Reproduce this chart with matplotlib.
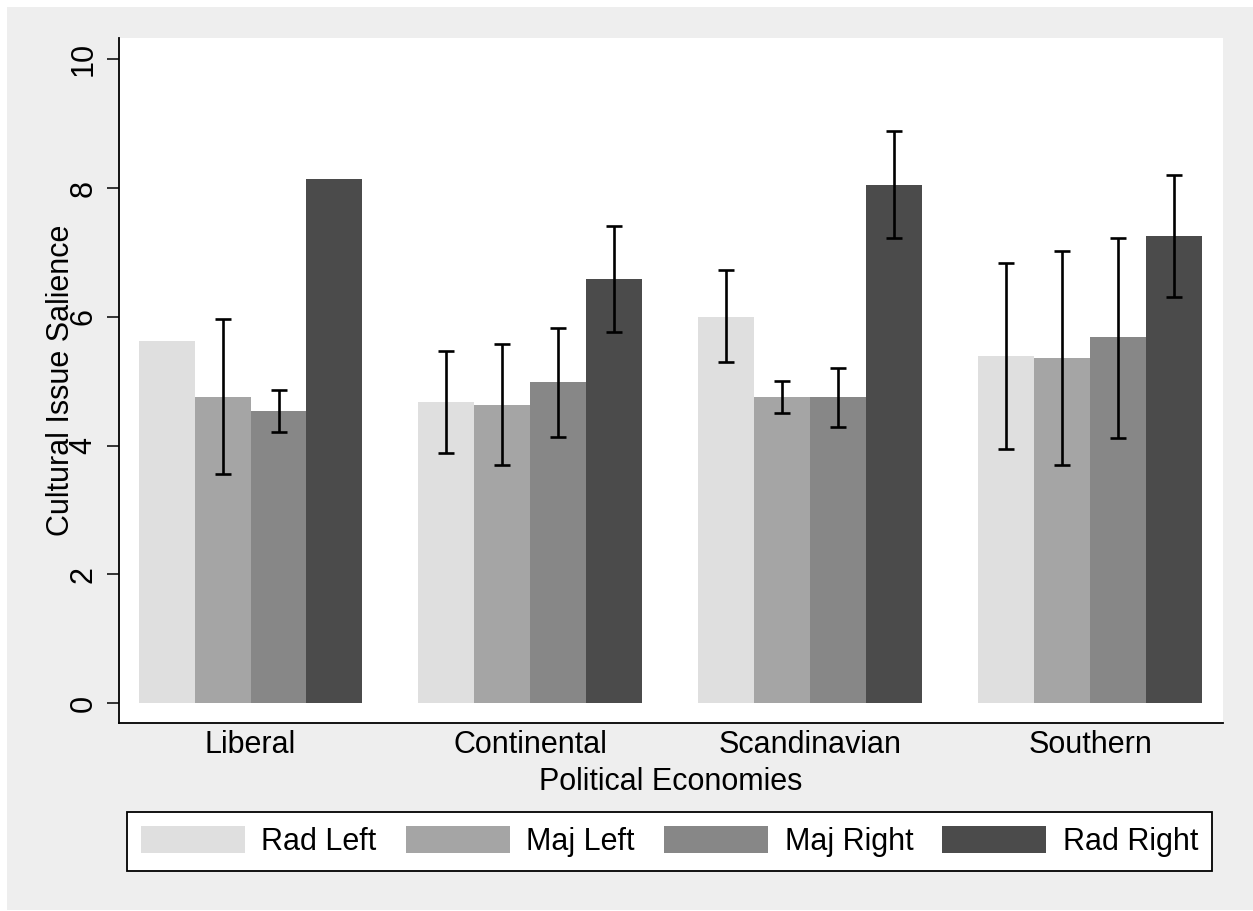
import numpy as np
import matplotlib
matplotlib.use('Agg')
import matplotlib.pyplot as plt
from matplotlib.patches import Rectangle

plt.rcParams['font.family'] = ['Liberation Sans', 'DejaVu Sans']

regimes = ['Liberal', 'Continental', 'Scandinavian', 'Southern']
parties = ['Rad Left', 'Maj Left', 'Maj Right', 'Rad Right']

rad_left = [5.63, 4.67, 6.00, 5.39]
maj_left = [4.76, 4.63, 4.76, 5.36]
maj_right = [4.54, 4.98, 4.75, 5.68]
rad_right = [8.14, 6.59, 8.05, 7.26]

# confidence intervals (nan = not shown)
rad_left_lo = [np.nan, 3.88, 5.30, 3.94]
rad_left_hi = [np.nan, 5.47, 6.72, 6.83]
maj_left_lo = [3.55, 3.70, 4.50, 3.70]
maj_left_hi = [5.96, 5.58, 5.01, 7.02]
maj_right_lo = [4.21, 4.13, 4.29, 4.12]
maj_right_hi = [4.86, 5.83, 5.21, 7.23]
rad_right_lo = [np.nan, 5.77, 7.23, 6.31]
rad_right_hi = [np.nan, 7.41, 8.88, 8.20]

series = [rad_left, maj_left, maj_right, rad_right]
lows = [rad_left_lo, maj_left_lo, maj_right_lo, rad_right_lo]
highs = [rad_left_hi, maj_left_hi, maj_right_hi, rad_right_hi]
colors = ['#dfdfdf', '#a5a5a5', '#878787', '#4b4b4b']

FS = 22
W, H = 1253, 911

fig = plt.figure(figsize=(W / 100, H / 100), dpi=100, facecolor='white')
# Stata-style grey background
fig.patches.append(Rectangle((7 / W, 1 / H), (W - 7) / W, (910 - 7) / H,
                             transform=fig.transFigure, facecolor='#eeeeee',
                             edgecolor='none', zorder=-10))

ax = fig.add_axes([119 / W, (H - 723) / H, (1223 - 119) / W, (723 - 38) / H])
ax.set_facecolor('white')

x = np.arange(len(regimes))
w = 0.2
handles = []
for j, (vals, lo, hi, c) in enumerate(zip(series, lows, highs, colors)):
    xs = x + (j - 1.5) * w
    b = ax.bar(xs, vals, width=w, color=c, label=parties[j], zorder=2)
    handles.append(b)
    lo = np.array(lo)
    hi = np.array(hi)
    m = ~np.isnan(lo)
    mid = (lo[m] + hi[m]) / 2
    ax.errorbar(xs[m], mid, yerr=(hi[m] - lo[m]) / 2, fmt='none', ecolor='black',
                elinewidth=1.9, capsize=5.8, capthick=1.9, zorder=3)

ax.set_xlim(-0.47, 3.475)
ax.set_ylim(-0.31, 10.33)

ax.set_yticks([0, 2, 4, 6, 8, 10])
ax.set_yticks([2, 4, 6, 8], minor=True)
ax.grid(which='minor', axis='y', color='#e8e8e8', linewidth=1.6, zorder=0)
ax.set_axisbelow(True)
ax.tick_params(axis='y', which='major', labelsize=FS, length=8.6, width=1.1,
               pad=6, labelrotation=90)
ax.tick_params(axis='y', which='minor', length=0)
for lab in ax.get_yticklabels():
    lab.set_va('center')

ax.set_xticks(x)
ax.set_xticklabels(regimes)
ax.tick_params(axis='x', length=0, labelsize=FS, pad=5)

for s in ['top', 'right']:
    ax.spines[s].set_visible(False)
for s in ['left', 'bottom']:
    ax.spines[s].set_linewidth(1.3)

ax.set_xlabel('Political Economies', fontsize=FS, labelpad=5)
ax.set_ylabel('Cultural Issue Salience', fontsize=FS, va='center')
ax.yaxis.set_label_coords(-0.0525, 0.5)

leg = fig.legend(handles=handles, labels=parties, loc='center',
                 bbox_to_anchor=(669.5 / W, 1 - 841.5 / H), ncol=4, fontsize=FS,
                 handlelength=3.4, handleheight=1.0, handletextpad=0.55,
                 columnspacing=0.95, borderpad=0.45, fancybox=False,
                 framealpha=1, edgecolor='black')
leg.get_frame().set_linewidth(1.3)

fig.savefig('out.png', dpi=100, facecolor=fig.get_facecolor())
